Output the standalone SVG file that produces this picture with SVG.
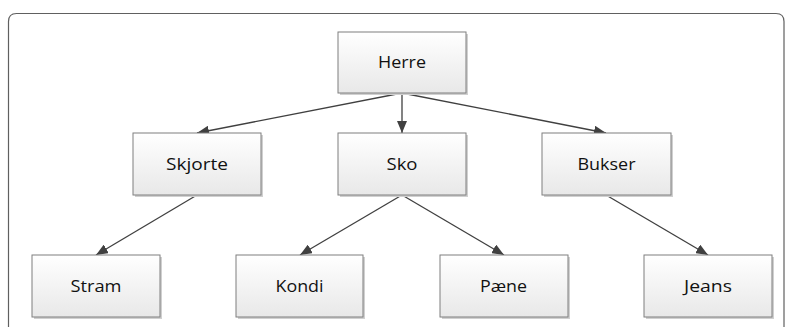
<svg xmlns="http://www.w3.org/2000/svg" width="785" height="327" viewBox="0 0 785 327">
  <style>
    .box { fill: url(#boxFill); stroke: #7f7f7f; stroke-width: 1; }
    .shadow { fill: #d0d0d0; }
    .label { font-family: "Open Sans", "Liberation Sans", sans-serif; font-size: 16px; fill: #111111; text-anchor: middle; }
    .edge { stroke: #404040; stroke-width: 1.3; fill: none; marker-end: url(#arrow); }
    .frame { fill: #ffffff; stroke: #606060; stroke-width: 1.2; }
  </style>
  <defs>
    <linearGradient id="boxFill" x1="0" y1="0" x2="0" y2="1">
      <stop offset="0" stop-color="#ffffff"/>
      <stop offset="1" stop-color="#e8e8e8"/>
    </linearGradient>
    <marker id="arrow" viewBox="0 0 12 10" refX="12" refY="5" markerWidth="12" markerHeight="10" markerUnits="userSpaceOnUse" orient="auto">
      <path d="M0,0 L12,5 L0,10 z" fill="#404040"/>
    </marker>
  </defs>

  <rect width="785" height="327" fill="#ffffff"/>
  <!-- outer rounded frame, bottom runs past the canvas -->
  <path class="frame" d="M8.5,335 V21.5 Q8.5,13.5 16.5,13.5 H776 Q784,13.5 784,21.5 V335"/>

  <g id="connectors">
    <line class="edge" x1="402" y1="93" x2="197" y2="133"/>
    <line class="edge" x1="402" y1="93" x2="402" y2="133"/>
    <line class="edge" x1="402" y1="93" x2="606" y2="133"/>
    <line class="edge" x1="197" y1="195" x2="96" y2="255"/>
    <line class="edge" x1="402" y1="195" x2="300" y2="255"/>
    <line class="edge" x1="402" y1="195" x2="504" y2="255"/>
    <line class="edge" x1="606" y1="195" x2="708" y2="255"/>
  </g>

  <g id="herre">
    <rect class="shadow" x="340" y="34" width="128" height="61"/>
    <rect class="box" x="338" y="32" width="128" height="61"/>
    <text class="label" x="402" y="68" textLength="48" lengthAdjust="spacingAndGlyphs">Herre</text>
  </g>
  <g id="skjorte">
    <rect class="shadow" x="135" y="135" width="128" height="62"/>
    <rect class="box" x="133" y="133" width="128" height="62"/>
    <text class="label" x="197" y="169.5" textLength="62" lengthAdjust="spacingAndGlyphs">Skjorte</text>
  </g>
  <g id="sko">
    <rect class="shadow" x="340" y="135" width="128" height="62"/>
    <rect class="box" x="338" y="133" width="128" height="62"/>
    <text class="label" x="402" y="169.5" textLength="31" lengthAdjust="spacingAndGlyphs">Sko</text>
  </g>
  <g id="bukser">
    <rect class="shadow" x="544" y="135" width="129" height="62"/>
    <rect class="box" x="542" y="133" width="129" height="62"/>
    <text class="label" x="606.5" y="169.5" textLength="58" lengthAdjust="spacingAndGlyphs">Bukser</text>
  </g>
  <g id="stram">
    <rect class="shadow" x="34" y="257" width="128" height="62"/>
    <rect class="box" x="32" y="255" width="128" height="62"/>
    <text class="label" x="96" y="291.5" textLength="51" lengthAdjust="spacingAndGlyphs">Stram</text>
  </g>
  <g id="kondi">
    <rect class="shadow" x="238" y="257" width="127" height="62"/>
    <rect class="box" x="236" y="255" width="127" height="62"/>
    <text class="label" x="299.5" y="291.5" textLength="48" lengthAdjust="spacingAndGlyphs">Kondi</text>
  </g>
  <g id="paene">
    <rect class="shadow" x="442" y="257" width="128" height="62"/>
    <rect class="box" x="440" y="255" width="128" height="62"/>
    <text class="label" x="503.5" y="291.5" textLength="47" lengthAdjust="spacingAndGlyphs">Pæne</text>
  </g>
  <g id="jeans">
    <rect class="shadow" x="646" y="257" width="128" height="62"/>
    <rect class="box" x="644" y="255" width="128" height="62"/>
    <text class="label" x="708" y="291.5" textLength="48" lengthAdjust="spacingAndGlyphs">Jeans</text>
  </g>
</svg>
